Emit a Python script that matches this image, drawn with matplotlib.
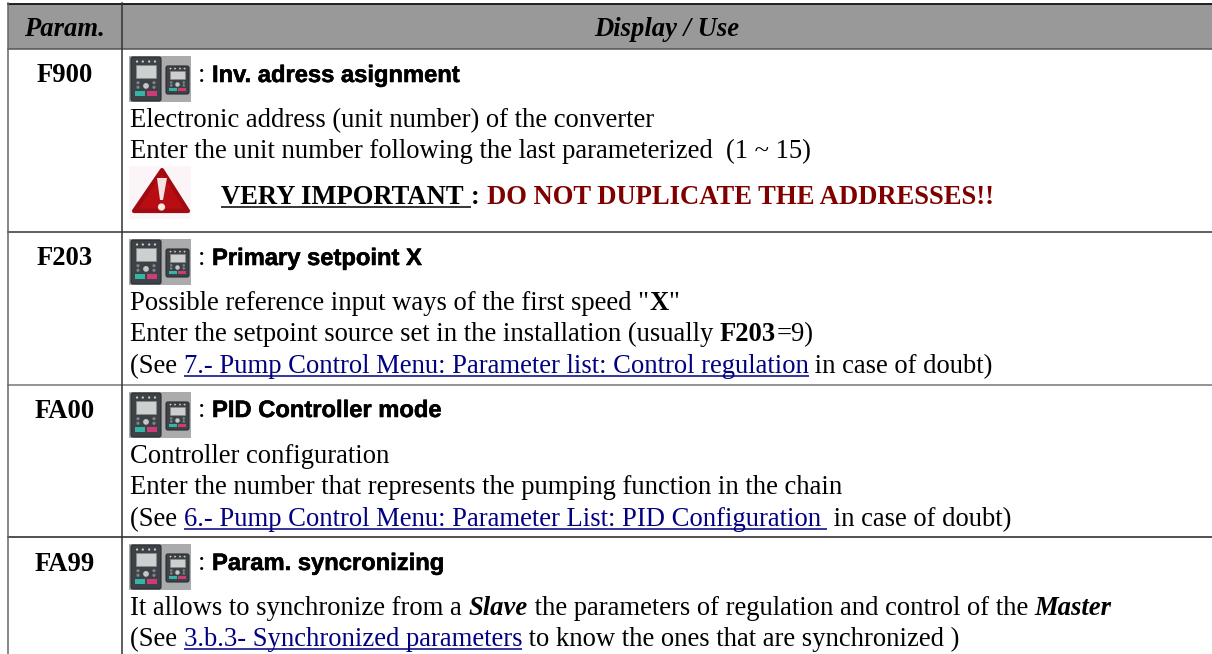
import matplotlib
matplotlib.use("Agg")
from matplotlib import pyplot as plt
from matplotlib import patheffects
from matplotlib.patches import Rectangle, Polygon, Circle, FancyBboxPatch

W, H = 1212, 654
SERIF = "Liberation Serif"
SANS = "Liberation Sans"
BODY = 19.2
LINK = "#000080"
DARK_RED = "#800000"

header_labels = ["Param.", "Display / Use"]
param_names = ["F900", "F203", "FA00", "FA99"]
param_y = [82, 265, 418, 571]
titles = ["Inv. adress asignment", "Primary setpoint X", "PID Controller mode", "Param. syncronizing"]
title_y = [82, 265, 417, 570]
icon_y = [56, 239, 392, 544]
row_lines = [49, 232, 385, 537]
row_colors = ["#555555", "#333333", "#777777", "#222222"]

# each line is a list of (text, style) runs
body_lines = [
    (127, [("Electronic address (unit number) of the converter", "")]),
    (158, [("Enter the unit number following the last parameterized  (1 ~ 15)", "")]),
    (310, [('Possible reference input ways of the first speed "', ""), ("X", "b"), ('"', "")]),
    (341, [("Enter the setpoint source set in the installation (usually ", ""), ("F203", "b"), ("=9)", "")]),
    (373, [("(See ", ""), ("7.- Pump Control Menu: Parameter list: Control regulation", "l"), (" in case of doubt)", "")]),
    (463, [("Controller configuration", "")]),
    (494, [("Enter the number that represents the pumping function in the chain", "")]),
    (526, [("(See ", ""), ("6.- Pump Control Menu: Parameter List: PID Configuration ", "l"), (" in case of doubt)", "")]),
    (615, [("It allows to synchronize from a ", ""), ("Slave", "bi"), (" the parameters of regulation and control of the ", ""), ("Master", "bi")]),
    (646, [("(See ", ""), ("3.b.3- Synchronized parameters", "l"), (" to know the ones that are synchronized )", "")]),
]
warning_runs = [("VERY IMPORTANT ", "bu"), (": ", "b"), ("DO NOT DUPLICATE THE ADDRESSES!!", "br")]

fig = plt.figure(figsize=(W / 100, H / 100), dpi=100)
ax = fig.add_axes([0, 0, 1, 1])
ax.set_xlim(0, W)
ax.set_ylim(H, 0)
ax.axis("off")


def draw_runs(x, y, runs, size=BODY):
    renderer = fig.canvas.get_renderer()
    for text, style in runs:
        color = "black"
        if style == "l":
            color = LINK
        if "r" in style:
            color = DARK_RED
        ax.text(x, y, text, family=SERIF, fontsize=size, color=color, va="baseline",
                weight="bold" if "b" in style else "normal",
                style="italic" if "i" in style else "normal")
        # trailing spaces are kept in the measured width
        t2 = ax.text(x, y, text.replace(" ", "\u00a0"), family=SERIF, fontsize=size,
                     weight="bold" if "b" in style else "normal",
                     style="italic" if "i" in style else "normal", alpha=0)
        width = t2.get_window_extent(renderer).width
        t2.remove()
        if style == "l" or "u" in style:
            ax.plot([x, x + width], [y + 3, y + 3], color=color, lw=1.1, solid_capstyle="butt")
        x += width
    return x


def draw_keypad(x, y, w, h):
    ax.add_patch(FancyBboxPatch((x + 1, y + 1), w - 2, h - 2, boxstyle="round,pad=0,rounding_size=2",
                                fc="#3d4246", ec="#2a2d30", lw=0.8))
    ax.add_patch(Rectangle((x + 0.2 * w, y + 0.2 * h), 0.6 * w, 0.28 * h, fc="#cdd0cf", ec="#8a8d8e", lw=0.5))
    ax.add_patch(Rectangle((x + 0.16 * w, y + 0.77 * h), 0.32 * w, 0.09 * h, fc="#35b5a6", ec="none"))
    ax.add_patch(Rectangle((x + 0.52 * w, y + 0.77 * h), 0.32 * w, 0.09 * h, fc="#cf3a78", ec="none"))
    ax.add_patch(Circle((x + 0.5 * w, y + 0.65 * h), 0.09 * w, fc="#c4c7c6", ec="none"))
    for fx in [0.22, 0.4, 0.6, 0.78]:
        ax.add_patch(Circle((x + fx * w, y + 0.12 * h), 0.035 * w, fc="#d0d2d2", ec="none"))
    for fx in [0.25, 0.75]:
        ax.add_patch(Circle((x + fx * w, y + 0.58 * h), 0.05 * w, fc="#7f8486", ec="none"))
        ax.add_patch(Circle((x + fx * w, y + 0.68 * h), 0.05 * w, fc="#7f8486", ec="none"))


def draw_icon(y):
    ax.add_patch(Rectangle((129, y), 62, 46, fc="#a9abac", ec="none"))
    draw_keypad(130, y, 32, 46)
    draw_keypad(165, y + 9, 25, 30)


# header
ax.add_patch(Rectangle((8, 4), W - 8, 45, fc="#999999", ec="none"))
ax.text(64, 36, header_labels[0], family=SERIF, fontsize=BODY, weight="bold", style="italic",
        ha="center", va="baseline")
ax.text(667, 36, header_labels[1], family=SERIF, fontsize=BODY, weight="bold", style="italic",
        ha="center", va="baseline")

# grid
ax.plot([8, W], [3.5, 3.5], color="#111111", lw=1.3)
for y, c in zip(row_lines, row_colors):
    ax.plot([8, W], [y, y], color=c, lw=1.1)
ax.plot([8, 8], [3, H], color="#666666", lw=1.1)
ax.plot([121.5, 121.5], [3, H], color="#333333", lw=1.1)

# rows
for name, y in zip(param_names, param_y):
    ax.text(65, y, name, family=SERIF, fontsize=BODY, weight="bold", ha="center", va="baseline")
for y in icon_y:
    draw_icon(y)
for title, y in zip(titles, title_y):
    ax.text(198, y, ":", family=SERIF, fontsize=BODY, va="baseline")
    ax.text(212, y, title, family=SANS, fontsize=17.1, weight="bold", va="baseline",
            path_effects=[patheffects.withStroke(linewidth=0.4, foreground="black")])
for y, runs in body_lines:
    draw_runs(130, y, runs)

# warning
ax.add_patch(Rectangle((129, 166), 62, 53, fc="#fbf5f7", ec="none"))
ax.add_patch(Polygon([[162, 170], [188, 211], [134, 211]], closed=True, fc="#b80d12", ec="#a00a10", lw=3, joinstyle="round"))
ax.add_patch(Polygon([[157, 178], [167, 178], [163, 200], [160, 200]], closed=True, fc="#f5e3e3", ec="none"))
ax.add_patch(Circle((161.5, 207), 3.6, fc="#f5ece2", ec="none"))
draw_runs(221, 204, warning_runs, size=BODY)

fig.savefig("out.png", dpi=100)
